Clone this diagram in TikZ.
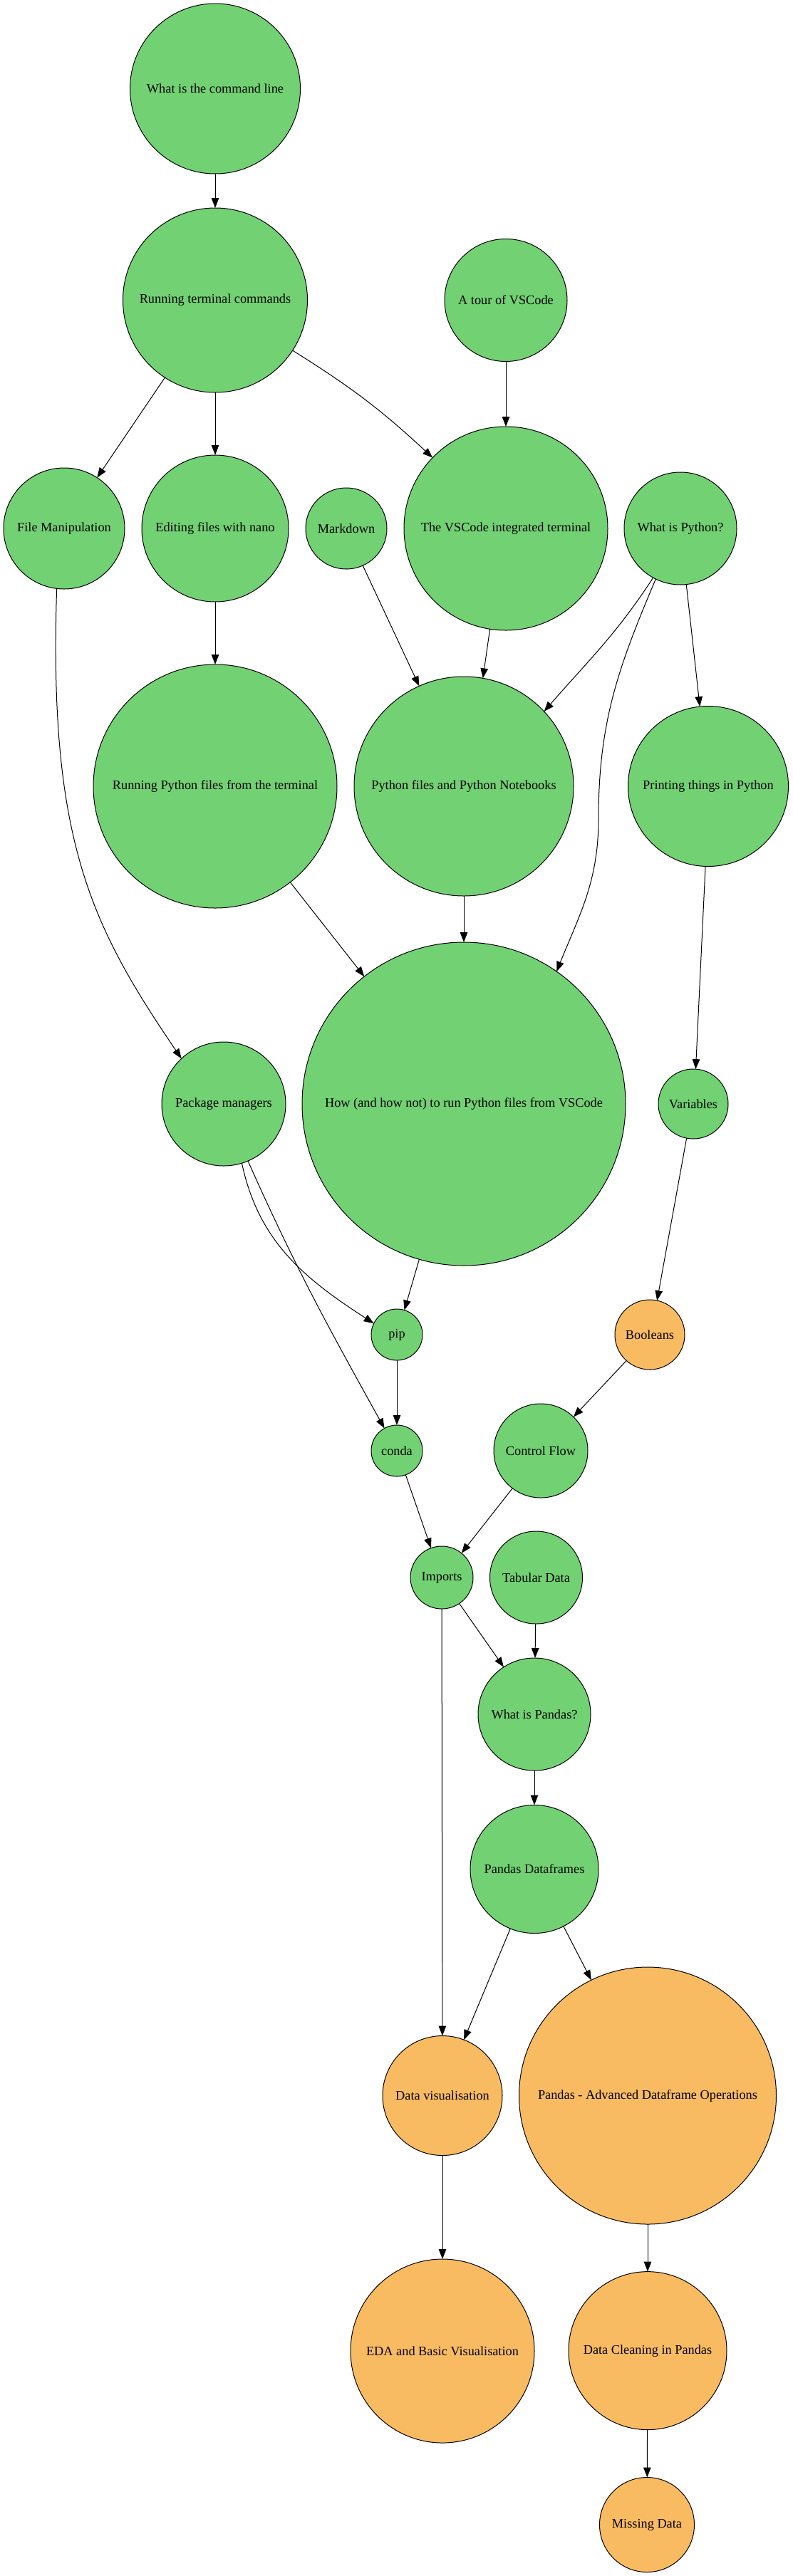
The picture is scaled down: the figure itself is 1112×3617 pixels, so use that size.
\documentclass[tikz,border=0pt]{standalone}
\usepackage{fontspec}
\setmainfont{Liberation Serif}
\usetikzlibrary{arrows.meta}
\definecolor{topicgreen}{RGB}{114,209,115}
\definecolor{topicorange}{RGB}{249,187,98}
\begin{document}
\begin{tikzpicture}[x=1pt,y=-1pt,
  topic/.style={circle, draw=black, line width=1pt, inner sep=0pt, outer sep=0pt,
    font=\fontsize{18.3}{22}\selectfont, text=black},
  gt/.style={topic, fill=topicgreen},
  ot/.style={topic, fill=topicorange},
  conn/.style={-{Triangle[length=14pt,width=10.5pt]}, line width=1pt, draw=black}
]
\useasboundingbox (0,0) rectangle (1112,3617);

% nodes
\node[gt, minimum size=239pt] (cmd) at (302,124.5) {What is the command line};
\node[gt, minimum size=259pt] (run) at (302,421.5) {Running terminal commands};
\node[gt, minimum size=172pt] (tour) at (710,421.5) {A tour of VSCode};
\node[gt, minimum size=170pt] (fileman) at (90,742) {File Manipulation};
\node[gt, minimum size=206pt] (nano) at (302,742) {Editing files with nano};
\node[gt, minimum size=114pt] (markdown) at (486,742) {Markdown};
\node[gt, minimum size=286pt] (vsterm) at (710,742) {The VSCode integrated terminal};
\node[gt, minimum size=158pt] (whatpy) at (955,742) {What is Python?};
\node[gt, minimum size=342pt] (runpy) at (302,1104) {Running Python files from the terminal};
\node[gt, minimum size=308pt] (pyfiles) at (651,1104) {Python files and Python Notebooks};
\node[gt, minimum size=225pt] (printing) at (994,1104) {Printing things in Python};
\node[gt, minimum size=174pt] (pkg) at (314,1550) {Package managers};
\node[gt, minimum size=454pt] (how) at (651,1550) {How (and how not) to run Python files from VSCode};
\node[gt, minimum size=98pt] (variables) at (973,1550) {Variables};
\node[gt, minimum size=72pt] (pip) at (557,1874) {pip};
\node[ot, minimum size=98pt] (booleans) at (912,1874) {Booleans};
\node[gt, minimum size=72pt] (conda) at (557,2037) {conda};
\node[gt, minimum size=132pt] (control) at (759,2037) {Control Flow};
\node[gt, minimum size=88pt] (imports) at (620,2215) {Imports};
\node[gt, minimum size=130pt] (tabular) at (752.5,2215) {Tabular Data};
\node[gt, minimum size=158pt] (pandas) at (750,2407) {What is Pandas?};
\node[gt, minimum size=180pt] (frames) at (750,2624.5) {Pandas Dataframes};
\node[ot, minimum size=168pt] (dataviz) at (621,2942.5) {Data visualisation};
\node[ot, minimum size=361pt] (advanced) at (909,2942.5) {Pandas - Advanced Dataframe Operations};
\node[ot, minimum size=258pt] (eda) at (621,3301) {EDA and Basic Visualisation};
\node[ot, minimum size=222pt] (cleaning) at (909,3300.6) {Data Cleaning in Pandas};
\node[ot, minimum size=133pt] (missing) at (908,3545) {Missing Data};

\coordinate (w1) at (840,1150);

% connectors
\draw[conn] (cmd) -- (run);
\draw[conn] (run.-123.7) -- (fileman.57);
\draw[conn] (run) -- (nano);
\draw[conn] (run.-33.3) to[out=-32,in=137] (vsterm.136.3);
\draw[conn] (tour) -- (vsterm);
\draw[conn] (nano) -- (runpy);
\draw[conn] (markdown.-66) -- (pyfiles.114.8);
\draw[conn] (vsterm.-99.4) -- (pyfiles.80.7);
\draw[conn] (whatpy.-119.2) to[out=-123,in=49] (pyfiles.43.2);
\draw[conn] (whatpy.-116.7) to[out=-113,in=90] (w1) to[out=-90,in=68] (how.55.8);
\draw[conn] (whatpy.-84.2) -- (printing.96.3);
\draw[conn] (fileman.-97) .. controls (68,1180) and (128,1300) .. (pkg.133);
\draw[conn] (runpy.-52.5) -- (how.128);
\draw[conn] (pyfiles) -- (how);
\draw[conn] (printing.-92.7) -- (variables.86.6);
\draw[conn] (pkg.-73.2) to[out=-78,in=147] (pip.154.3);
\draw[conn] (pkg.-67.8) to[out=-66,in=119] (conda.119.2);
\draw[conn] (how.-106.3) -- (pip.73.4);
\draw[conn] (pip) -- (conda);
\draw[conn] (variables.-101) -- (booleans.78.6);
\draw[conn] (booleans.-132.9) -- (control.46.5);
\draw[conn] (conda.-70) -- (imports.110);
\draw[conn] (control.-127.6) -- (imports.51.3);
\draw[conn] (imports.-56.6) -- (pandas.123.9);
\draw[conn] (tabular) -- (pandas);
\draw[conn] (imports) -- (dataviz);
\draw[conn] (pandas) -- (frames);
\draw[conn] (frames.-112.5) -- (dataviz.69);
\draw[conn] (frames.-63.1) -- (advanced.116.4);
\draw[conn] (dataviz) -- (eda);
\draw[conn] (advanced) -- (cleaning);
\draw[conn] (cleaning) -- (missing);
\end{tikzpicture}
\end{document}
